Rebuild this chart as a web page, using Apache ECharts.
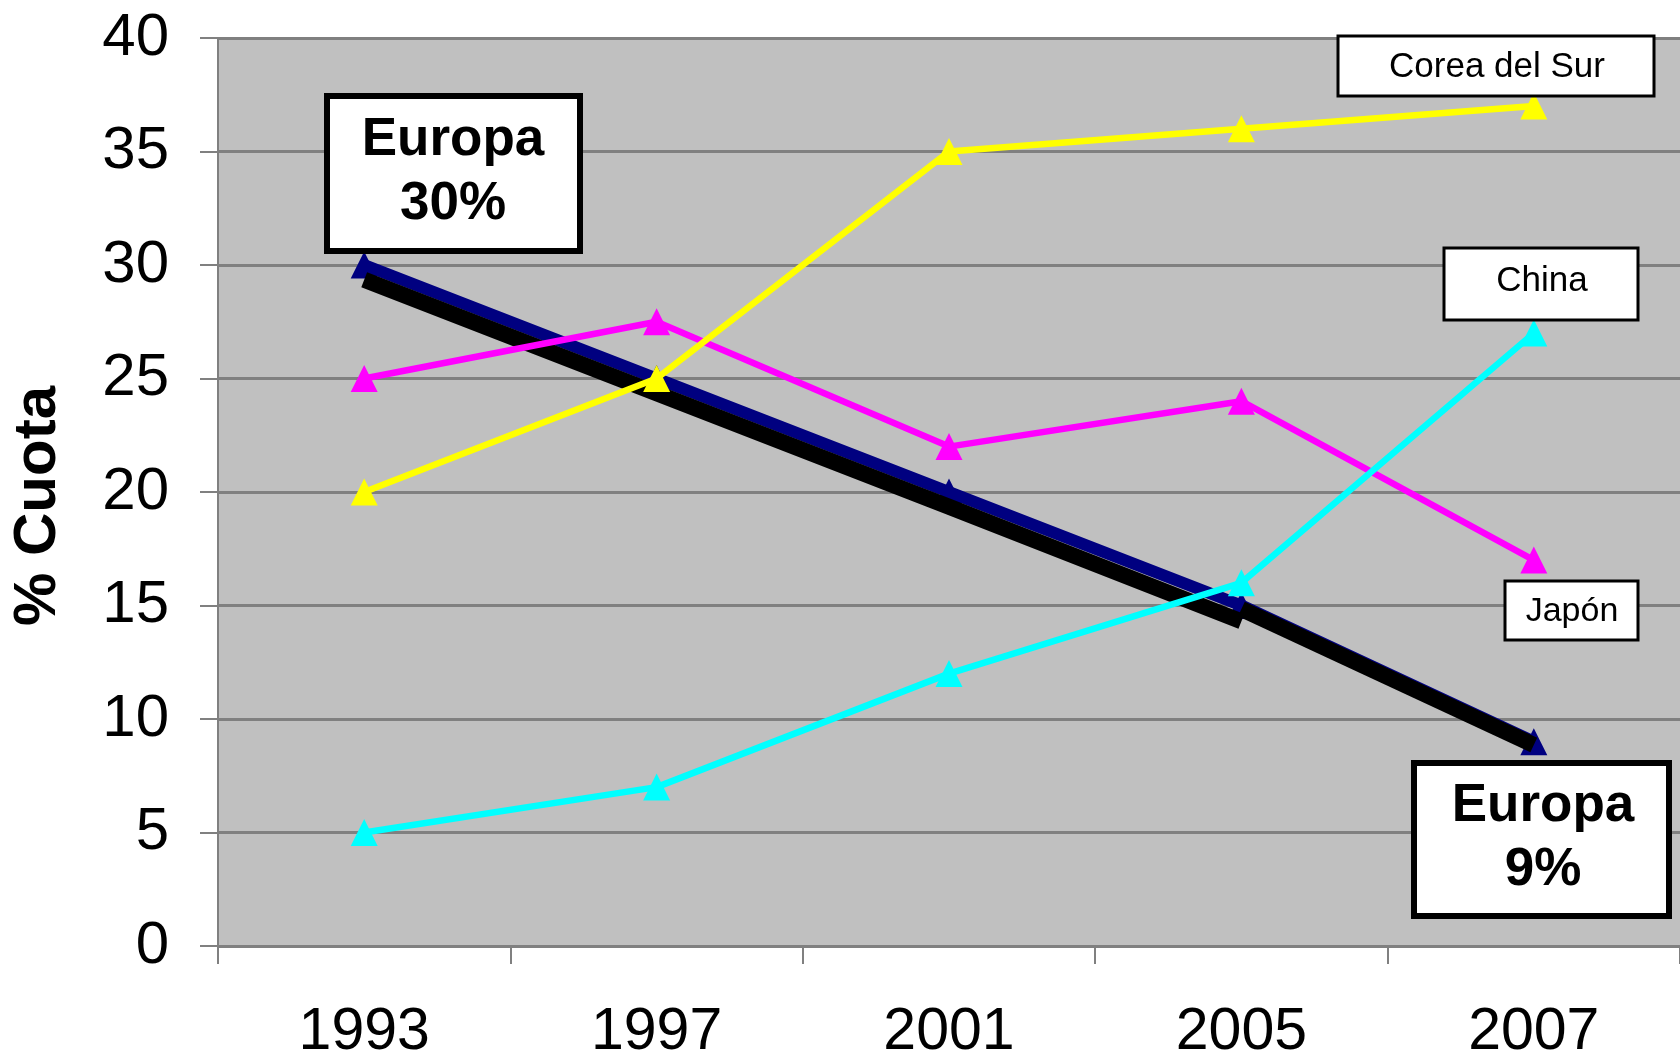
<!DOCTYPE html>
<html><head><meta charset="utf-8">
<script src="https://cdn.jsdelivr.net/npm/echarts@6/dist/echarts.min.js"></script>
<style>html,body{margin:0;padding:0;background:#fff}#c{width:1680px;height:1062px}</style>
</head><body><div id="c"></div>
<script>
const years = ['1993','1997','2001','2005','2007'];
const europa = [30, 25, 20, 15, 9];
const corea = [20, 25, 35, 36, 37];
const japon = [25, 27.5, 22, 24, 17];
const china = [5, 7, 12, 16, 27];
// hand-drawn black emphasis strokes over the Europa line
const europaTrazo1 = [29.35, 24.35, 19.35, 14.3, null];
const europaTrazo2 = [null, null, null, 14.85, 8.85];
const yTicks = [0, 5, 10, 15, 20, 25, 30, 35, 40];
const yTitle = '% Cuota';
const notes = {
  europaIni: ['Europa', '30%'],
  europaFin: ['Europa', '9%'],
  corea: 'Corea del Sur',
  china: 'China',
  japon: 'Japón'
};

const FONT = '"Liberation Sans", Arial, sans-serif';
const chart = echarts.init(document.getElementById('c'), null, {renderer: 'canvas'});

function lineSeries(name, data, color, width, sym, z) {
  return {
    name, type: 'line', data, z,
    symbol: sym ? 'triangle' : 'none', symbolSize: 27,
    itemStyle: {color},
    lineStyle: {color, width},
    connectNulls: false,
    animation: false
  };
}

function box(x, y, w, h, bw, lines, fs, bold, centersY, cx) {
  const els = [{
    type: 'rect', shape: {x: x, y: y, width: w, height: h},
    style: {fill: '#fff', stroke: '#000', lineWidth: bw}, z: 100
  }];
  lines.forEach((t, i) => {
    els.push({
      type: 'text', x: cx, y: centersY[i], z: 101,
      style: {text: t, font: (bold ? 'bold ' : '') + fs + 'px ' + FONT,
        fill: '#000', align: 'center', verticalAlign: 'middle'}
    });
  });
  return els;
}

const option = {
  backgroundColor: '#fff',
  animation: false,
  grid: {left: 203, top: 38, bottom: 116, right: -7, show: true,
    backgroundColor: '#C0C0C0', borderWidth: 0},
  xAxis: {
    type: 'category', data: years, boundaryGap: true,
    axisLine: {show: true, lineStyle: {color: '#808080', width: 2}},
    axisTick: {show: true, length: 18, inside: false, lineStyle: {color: '#808080', width: 2}},
    axisLabel: {color: '#000', fontFamily: FONT, fontSize: 59, margin: 57},
    splitLine: {show: false}
  },
  yAxis: {
    type: 'value', min: yTicks[0], max: yTicks[yTicks.length - 1], interval: 5,
    name: yTitle, nameLocation: 'middle', nameGap: 150, nameRotate: 90,
    nameTextStyle: {color: '#000', fontFamily: FONT, fontSize: 60, fontWeight: 'bold',
      padding: [0, 28, 0, 0]},
    axisLine: {show: true, lineStyle: {color: '#808080', width: 2}},
    axisTick: {show: true, length: 18, lineStyle: {color: '#808080', width: 2}},
    axisLabel: {color: '#000', fontFamily: FONT, fontSize: 60, margin: 49},
    splitLine: {show: true, lineStyle: {color: '#808080', width: 3}}
  },
  series: [
    lineSeries('Europa', europa, '#000080', 12, true, 2),
    lineSeries('Europa trazo 1', europaTrazo1, '#000000', 16, false, 3),
    lineSeries('Europa trazo 2', europaTrazo2, '#000000', 16, false, 3),
    lineSeries('Japón', japon, '#FF00FF', 6.5, true, 4),
    lineSeries('Corea del Sur', corea, '#FFFF00', 6.5, true, 5),
    lineSeries('China', china, '#00FFFF', 6.5, true, 6)
  ],
  graphic: [].concat(
    box(327, 96, 253, 155, 6, notes.europaIni, 53, true, [140, 204], 453),
    box(1414, 763, 255, 153, 6, notes.europaFin, 53, true, [806, 870], 1543),
    box(1338, 36, 316, 60, 3, [notes.corea], 35, false, [67], 1497),
    box(1444, 248, 194, 72, 3, [notes.china], 35, false, [281], 1542),
    box(1505, 581, 133, 59, 3, [notes.japon], 34, false, [612], 1572)
  )
};
chart.setOption(option);
</script></body></html>
